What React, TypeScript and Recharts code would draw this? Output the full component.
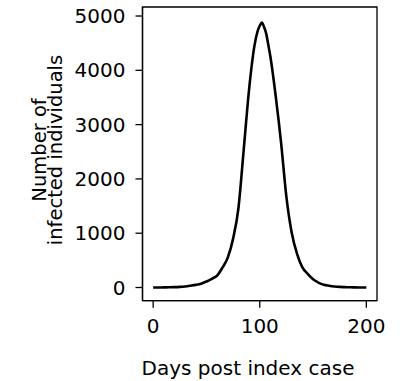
import { LineChart, Line, XAxis, YAxis, ReferenceArea } from "recharts";

// Epidemic curve: infected count per day after the index case
const days = [
  0, 5, 10, 15, 20, 25, 30, 35, 40, 45, 50, 55, 60, 65, 70, 75, 80, 85, 90, 95,
  98, 100, 102, 104, 106, 108, 110, 115, 120, 125, 130, 135, 140, 145, 150, 155,
  160, 165, 170, 175, 180, 185, 190, 195, 200,
];
const infected = [
  0, 1, 2, 4, 7, 12, 20, 33, 48, 70, 110, 160, 220, 365, 550, 900, 1460, 2550,
  3650, 4450, 4720, 4820, 4880, 4800, 4680, 4470, 4250, 3520, 2670, 1670, 1010,
  620, 370, 250, 150, 90, 50, 32, 19, 11, 7, 4, 2, 1, 0,
];

const xTicks = [0, 100, 200];
const yTicks = [0, 1000, 2000, 3000, 4000, 5000];
const xDomain = [-10, 210];
const yDomain = [-243, 5166];

const FONT = "'DejaVu Sans', sans-serif";
const tickStyle = { fill: "#000", fontSize: 20, fontFamily: FONT };
const axisLine = { stroke: "#000", strokeWidth: 1.3 };

const rows = days.map((d, i) => ({ day: d, infected: infected[i] }));

// two-line rotated y label
function YLabel() {
  return (
    <text
      transform="rotate(-90)"
      textAnchor="middle"
      fontFamily={FONT}
      fontSize={19.5}
      fill="#000"
    >
      <tspan x={-150} y={46}>Number of</tspan>
      <tspan x={-150} y={61.7}>infected individuals</tspan>
    </text>
  );
}

export default function App() {
  return (
    <div style={{ position: "absolute", left: 0, top: 0, background: "#fff" }}>
      <LineChart
        width={405}
        height={381}
        data={rows}
        margin={{ top: 7, right: 28, bottom: 0, left: 0 }}
      >
        <XAxis
          dataKey="day"
          type="number"
          domain={xDomain}
          ticks={xTicks}
          allowDataOverflow
          height={80.3}
          tick={tickStyle}
          tickSize={7}
          tickMargin={11}
          axisLine={axisLine}
          tickLine={axisLine}
        />
        <YAxis
          type="number"
          domain={yDomain}
          ticks={yTicks}
          allowDataOverflow
          width={142.5}
          tick={tickStyle}
          tickSize={7}
          tickMargin={10}
          axisLine={axisLine}
          tickLine={axisLine}
        />
        {/* box around the plot area */}
        <ReferenceArea
          x1={xDomain[0]}
          x2={xDomain[1]}
          y1={yDomain[0]}
          y2={yDomain[1]}
          fill="none"
          stroke="#000"
          strokeWidth={1.3}
          ifOverflow="visible"
        />
        <Line
          dataKey="infected"
          type="monotone"
          stroke="#000"
          strokeWidth={2.6}
          dot={false}
          isAnimationActive={false}
        />
        <YLabel />
        <text
          x={248}
          y={375}
          textAnchor="middle"
          fontFamily={FONT}
          fontSize={20}
          fill="#000"
        >
          Days post index case
        </text>
      </LineChart>
    </div>
  );
}
